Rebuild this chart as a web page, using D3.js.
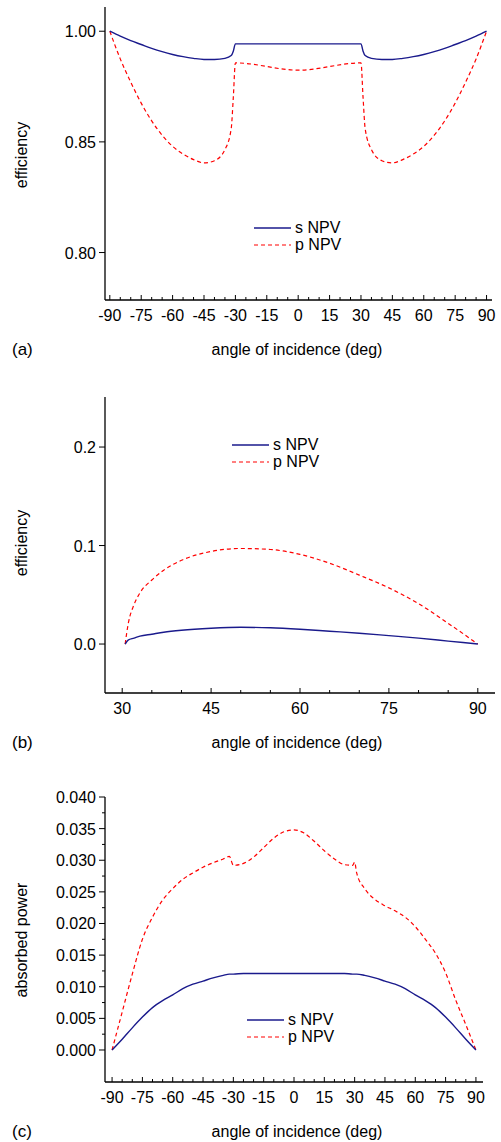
<!DOCTYPE html>
<html><head><meta charset="utf-8">
<script src="https://cdn.jsdelivr.net/npm/d3@7"></script>
<style>body{margin:0;background:#fff}text{font-family:"Liberation Sans",Arial,sans-serif}</style>
</head><body>
<svg id="mySVG" width="501" height="1142"></svg>
<script>
// panel (a): the y labels are printed as 1.00 / 0.85 / 0.80 at equal spacing
const aAngles = [-90,-85,-80,-75,-70,-65,-60,-55,-50,-45,-40,-35,-32,-31,-30,0,30,31,32,35,40,45,50,55,60,65,70,75,80,85,90];
const aS = [1.0,0.9955,0.9915,0.988,0.9845,0.9815,0.979,0.977,0.9755,0.9745,0.9745,0.9755,0.978,0.982,0.9886,0.9886,0.9886,0.982,0.978,0.9755,0.9745,0.9745,0.9755,0.977,0.979,0.9815,0.9845,0.988,0.9915,0.9955,1.0];
const aP = [1.0,0.975,0.954,0.935,0.919,0.906,0.896,0.889,0.884,0.881,0.883,0.893,0.912,0.940,0.9714,0.9648,0.9714,0.940,0.912,0.893,0.883,0.881,0.884,0.889,0.896,0.906,0.919,0.935,0.954,0.975,1.0];
const aYTicks = [0.8, 0.9, 1.0];
const aYLabels = ["0.80", "0.85", "1.00"];

const bAngles = [30.5,31,32,33,35,37,40,45,50,55,60,65,70,75,80,85,90];
const bS = [0,0.004,0.006,0.008,0.010,0.012,0.014,0.016,0.017,0.0165,0.015,0.013,0.011,0.0085,0.006,0.003,0];
const bP = [0,0.02,0.04,0.052,0.065,0.075,0.085,0.094,0.097,0.096,0.091,0.082,0.070,0.057,0.041,0.021,0];
const bYTicks = [0, 0.1, 0.2];
const bYLabels = ["0.0", "0.1", "0.2"];

const cAngles = [-90,-85,-80,-75,-70,-65,-60,-55,-50,-45,-40,-35,-32,-30,-25,-20,-15,-10,-5,0,5,10,15,20,25,29,30,31,35,40,45,50,55,60,65,70,75,80,85,90];
const cS = [0,0.0017,0.0035,0.0052,0.0067,0.0078,0.0087,0.0097,0.0104,0.0109,0.0114,0.0118,0.0120,0.0120,0.0121,0.0121,0.0121,0.0121,0.0121,0.0121,0.0121,0.0121,0.0121,0.0121,0.0121,0.0120,0.0120,0.0120,0.0118,0.0114,0.0109,0.0104,0.0097,0.0087,0.0078,0.0067,0.0052,0.0035,0.0017,0];
const cP = [0,0.006,0.012,0.0175,0.021,0.0237,0.0255,0.027,0.028,0.0289,0.0296,0.0302,0.0306,0.0292,0.0295,0.0305,0.032,0.0335,0.0345,0.0348,0.0343,0.033,0.0315,0.0302,0.0293,0.0292,0.0297,0.028,0.0255,0.0238,0.0228,0.022,0.021,0.0195,0.0175,0.0153,0.0122,0.0079,0.004,0];
const cYTicks = [0,0.005,0.010,0.015,0.020,0.025,0.030,0.035,0.040];
const cYLabels = cYTicks.map(v => v.toFixed(3));

const xTicksFull = [-90,-75,-60,-45,-30,-15,0,15,30,45,60,75,90];
const xTicksB = [30,45,60,75,90];

const graph = d3.select('svg');

function drawPanel(p) {
    const g = graph.append('g');
    const x = d3.scaleLinear().domain(p.xDomain).range([105, p.right]);
    const y = d3.scaleLinear().domain(p.yDomain).range([p.bottom, p.top]);

    g.append('line').attr('x1', 105).attr('x2', 105).attr('y1', p.top).attr('y2', p.bottom).attr('stroke', '#000').attr('stroke-width', 1.3);
    g.append('line').attr('x1', 105).attr('x2', p.right).attr('y1', p.bottom).attr('y2', p.bottom).attr('stroke', '#000').attr('stroke-width', 1.3);

    // x ticks point up into the plot
    const minor = d3.range(p.xTicks[0], p.xTicks[p.xTicks.length - 1] + 0.1, 5);
    minor.forEach(v => {
        const major = p.xTicks.includes(v);
        g.append('line').attr('x1', x(v)).attr('x2', x(v)).attr('y1', p.bottom).attr('y2', p.bottom - (major ? 5 : 3)).attr('stroke', '#000');
    });
    p.xTicks.forEach(v => {
        g.append('text').attr('x', x(v)).attr('y', p.bottom + 21).attr('text-anchor', 'middle').attr('font-size', 16).text(v);
    });

    p.yTicks.forEach((v, i) => {
        g.append('line').attr('x1', 105).attr('x2', 99).attr('y1', y(v)).attr('y2', y(v)).attr('stroke', '#000');
        g.append('text').attr('x', 96).attr('y', y(v) + 6).attr('text-anchor', 'end').attr('font-size', 16).text(p.yLabels[i]);
    });
    if (p.yMinor) {
        p.yMinor.forEach(v => g.append('line').attr('x1', 105).attr('x2', 102).attr('y1', y(v)).attr('y2', y(v)).attr('stroke', '#000'));
    }

    const line = d3.line().x(d => x(d[0])).y(d => y(d[1])).curve(d3.curveMonotoneX);
    g.append('path').attr('d', line(p.angles.map((a, i) => [a, p.p[i]]))).attr('fill', 'none').attr('stroke', '#ff0000').attr('stroke-width', 1.2).attr('stroke-dasharray', '4,3');
    g.append('path').attr('d', line(p.angles.map((a, i) => [a, p.s[i]]))).attr('fill', 'none').attr('stroke', '#1a1a8c').attr('stroke-width', 1.4);

    // legend
    g.append('line').attr('x1', p.leg[0]).attr('x2', p.leg[0] + 37).attr('y1', p.leg[1]).attr('y2', p.leg[1]).attr('stroke', '#1a1a8c').attr('stroke-width', 1.4);
    g.append('line').attr('x1', p.leg[0]).attr('x2', p.leg[0] + 37).attr('y1', p.leg[1] + 17).attr('y2', p.leg[1] + 17).attr('stroke', '#ff0000').attr('stroke-width', 1.2).attr('stroke-dasharray', '4,3');
    g.append('text').attr('x', p.leg[0] + 41).attr('y', p.leg[1] + 5).attr('font-size', 16).text('s NPV');
    g.append('text').attr('x', p.leg[0] + 41).attr('y', p.leg[1] + 22).attr('font-size', 16).text('p NPV');

    g.append('text').attr('x', 297).attr('y', p.bottom + 55).attr('text-anchor', 'middle').attr('font-size', 16).text('angle of incidence (deg)');
    g.append('text').attr('transform', `translate(27,${p.yTitleY}) rotate(-90)`).attr('text-anchor', 'middle').attr('font-size', 16).text(p.yTitle);
    g.append('text').attr('x', 12).attr('y', p.bottom + 55).attr('font-family', '"Liberation Serif",serif').attr('font-size', 17).text(p.label);
}

drawPanel({
    xDomain: [-92.3, 92.6], right: 492, top: 7, bottom: 300, yDomain: [0.7571, 1.0219],
    xTicks: xTicksFull, yTicks: aYTicks, yLabels: aYLabels,
    angles: aAngles, s: aS, p: aP, leg: [254, 228], yTitle: 'efficiency', yTitleY: 155, label: '(a)'
});
drawPanel({
    xDomain: [27.1, 92.9], right: 495, top: 397, bottom: 693, yDomain: [-0.0497, 0.2508],
    xTicks: xTicksB, yTicks: bYTicks, yLabels: bYLabels,
    angles: bAngles, s: bS, p: bP, leg: [232, 445], yTitle: 'efficiency', yTitleY: 543, label: '(b)'
});
drawPanel({
    xDomain: [-93.5, 93.5], right: 483, top: 797, bottom: 1082, yDomain: [-0.00506, 0.04],
    xTicks: xTicksFull, yTicks: cYTicks, yLabels: cYLabels, yMinor: d3.range(0.0025, 0.04, 0.005),
    angles: cAngles, s: cS, p: cP, leg: [247, 1020], yTitle: 'absorbed power', yTitleY: 940, label: '(c)'
});
</script>
</body></html>
